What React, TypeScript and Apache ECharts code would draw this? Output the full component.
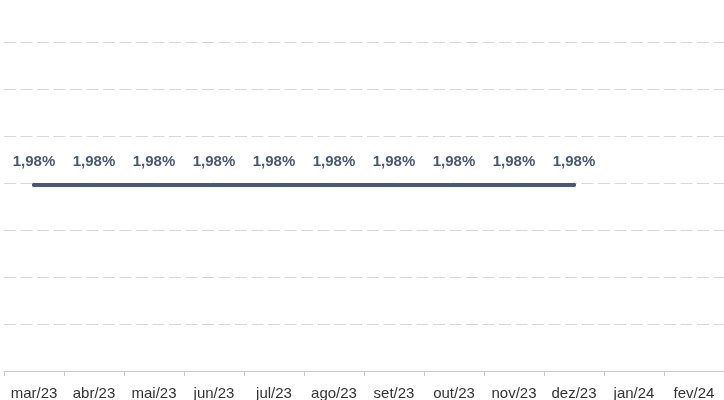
import React, { useEffect, useRef } from "react";
import * as echarts from "echarts";

const categories = ["mar/23", "abr/23", "mai/23", "jun/23", "jul/23", "ago/23", "set/23", "out/23", "nov/23", "dez/23", "jan/24", "fev/24"];
const values: (number | null)[] = [1.98, 1.98, 1.98, 1.98, 1.98, 1.98, 1.98, 1.98, 1.98, 1.98, null, null];

export default function App() {
  const ref = useRef<HTMLDivElement>(null);
  useEffect(() => {
    if (!ref.current) return;
    const chart = echarts.init(ref.current, null, { renderer: "svg" });
    chart.setOption({
      animation: false,
      grid: { left: 4, right: 0, top: 42, bottom: 29, containLabel: false },
      xAxis: {
        type: "category",
        data: categories,
        boundaryGap: true,
        axisLine: { lineStyle: { color: "#cccccc", width: 1 } },
        axisTick: { show: true, lineStyle: { color: "#cccccc" }, length: 5, interval: 0 },
        axisLabel: { color: "#333333", fontSize: 15, fontFamily: "Liberation Sans", margin: 14, interval: 0 },
      },
      yAxis: {
        type: "value",
        min: 0,
        max: 3.5,
        interval: 0.5,
        axisLabel: { show: false },
        axisLine: { show: false },
        axisTick: { show: false },
        splitLine: { lineStyle: { color: "#d8d8d8", type: [12, 4.5], width: 1 } },
      },
      series: [
        {
          type: "line",
          data: values,
          showSymbol: true,
          symbol: "circle",
          symbolSize: 4,
          lineStyle: { color: "#4a5874", width: 4, cap: "round" },
          itemStyle: { color: "#4a5874" },
          label: {
            show: true,
            position: "top",
            distance: 15,
            color: "#4a5874",
            fontWeight: "bold",
            fontSize: 15,
            fontFamily: "Liberation Sans",
            formatter: (p: any) => (p.value == null ? "" : p.value.toFixed(2).replace(".", ",") + "%"),
          },
        },
      ],
    });
    return () => chart.dispose();
  }, []);
  return <div ref={ref} style={{ position: "fixed", left: 0, top: 0, width: 724, height: 400 }} />;
}
